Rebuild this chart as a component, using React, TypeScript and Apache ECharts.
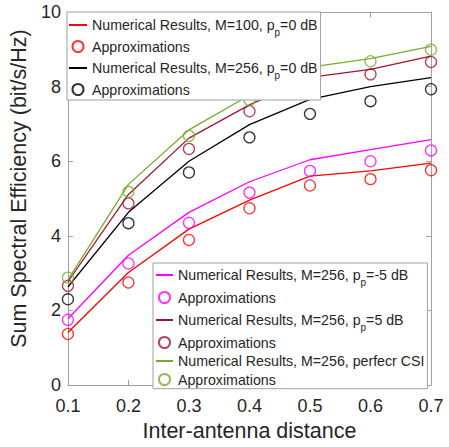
import React, { useEffect, useRef } from 'react';
import * as echarts from 'echarts';

// Inter-antenna distance (x)
const distances = [0.1, 0.2, 0.3, 0.4, 0.5, 0.6, 0.7];
// Sum spectral efficiency (bit/s/Hz)
const numM100p0 = [1.41, 3.02, 4.18, 4.96, 5.6, 5.74, 5.95];
const apxM100p0 = [1.37, 2.75, 3.89, 4.74, 5.35, 5.52, 5.76];
const numM256p0 = [2.63, 4.63, 6.0, 6.98, 7.66, 8.0, 8.24];
const apxM256p0 = [2.3, 4.34, 5.7, 6.64, 7.27, 7.61, 7.93];
const numM256pm5 = [1.78, 3.48, 4.63, 5.45, 6.04, 6.31, 6.58];
const apxM256pm5 = [1.75, 3.26, 4.35, 5.16, 5.74, 6.0, 6.29];
const numM256p5 = [2.77, 5.11, 6.62, 7.51, 8.25, 8.46, 8.82];
const apxM256p5 = [2.66, 4.87, 6.33, 7.34, 7.95, 8.33, 8.66];
const numCSI = [2.82, 5.38, 6.84, 7.77, 8.52, 8.75, 9.08];
const apxCSI = [2.88, 5.18, 6.68, 7.64, 8.32, 8.68, 8.99];

const legendLabels: Record<string, string> = {
  n1: 'Numerical Results, M=100, p{s|p}=0 dB',
  a1: 'Approximations',
  n2: 'Numerical Results, M=256, p{s|p}=0 dB',
  a2: 'Approximations',
  n3: 'Numerical Results, M=256, p{s|p}=-5 dB',
  a3: 'Approximations',
  n4: 'Numerical Results, M=256, p{s|p}=5 dB',
  a4: 'Approximations',
  n5: 'Numerical Results, M=256, perfecr CSI',
  a5: 'Approximations',
};

const FONT = "'Liberation Sans', Arial, Helvetica, sans-serif";
const AXIS_COLOR = '#a0a0a0';
const TEXT_COLOR = '#262626';

const RED = '#ff0000';
const BLACK = '#000000';
const MAGENTA = '#ff00ff';
const DARKRED = '#a2142f';
const GREEN = '#77ac30';

function pairs(vals: number[]) {
  return distances.map((d, i) => [d, vals[i]]);
}

function lineSeries(name: string, vals: number[], color: string) {
  return {
    name,
    type: 'line',
    data: pairs(vals),
    symbol: 'none',
    lineStyle: { color, width: 1.3 },
    itemStyle: { color },
    z: 2,
  };
}

function circleSeries(name: string, vals: number[], color: string) {
  return {
    name,
    type: 'scatter',
    data: pairs(vals),
    symbol: 'circle',
    symbolSize: 11,
    itemStyle: { color: 'transparent', borderColor: color, borderWidth: 1.3 },
    z: 3,
  };
}

const legendText = {
  fontSize: 14.2,
  fontFamily: FONT,
  color: TEXT_COLOR,
  lineHeight: 16,
  rich: {
    s: { fontSize: 10, lineHeight: 24, verticalAlign: 'bottom', fontFamily: FONT, color: TEXT_COLOR },
  },
};

const hiddenMarker = { color: 'transparent', borderColor: 'transparent', borderWidth: 0 };

function legendItem(name: string) {
  return name.startsWith('n') ? { name, itemStyle: hiddenMarker } : { name };
}

export default function App() {
  const ref = useRef<HTMLDivElement>(null);
  useEffect(() => {
    if (!ref.current) return;
    const chart = echarts.init(ref.current, undefined, { renderer: 'svg' });
    const axisCommon = {
      axisLine: { show: true, onZero: false, lineStyle: { color: AXIS_COLOR, width: 1 } },
      axisTick: { show: true, inside: true, length: 5, lineStyle: { color: AXIS_COLOR } },
      splitLine: { show: false },
    };
    chart.setOption({
      animation: false,
      backgroundColor: '#ffffff',
      grid: { left: 67, right: 18, top: 12, bottom: 59, containLabel: false },
      xAxis: [
        {
          type: 'value',
          min: 0.1,
          max: 0.7,
          interval: 0.1,
          position: 'bottom',
          ...axisCommon,
          axisLabel: {
            fontSize: 18,
            fontFamily: FONT,
            color: TEXT_COLOR,
            margin: 12,
            formatter: (v: number) => v.toFixed(1),
          },
          name: 'Inter-antenna distance',
          nameLocation: 'middle',
          nameGap: 34,
          nameTextStyle: { fontSize: 21.5, fontFamily: FONT, color: TEXT_COLOR },
        },
        {
          type: 'value',
          min: 0.1,
          max: 0.7,
          interval: 0.1,
          position: 'top',
          ...axisCommon,
          axisLabel: { show: false },
        },
      ],
      yAxis: [
        {
          type: 'value',
          min: 0,
          max: 10,
          interval: 2,
          position: 'left',
          ...axisCommon,
          axisLabel: {
            fontSize: 18,
            fontFamily: FONT,
            color: TEXT_COLOR,
            margin: 7,
            padding: [6, 0, 0, 0],
          },
          name: 'Sum Spectral Efficiency (bit/s/Hz)',
          nameLocation: 'middle',
          nameGap: 34,
          nameTextStyle: {
            fontSize: 21.5,
            fontFamily: FONT,
            color: TEXT_COLOR,
            padding: [0, 0, 0, 20],
          },
        },
        {
          type: 'value',
          min: 0,
          max: 10,
          interval: 2,
          position: 'right',
          ...axisCommon,
          axisLabel: { show: false },
        },
      ],
      legend: [
        {
          orient: 'vertical',
          left: 67,
          top: 12,
          padding: [1, 3, 2.5, 1],
          itemGap: 1.5,
          itemWidth: 18,
          itemHeight: 11,
          backgroundColor: '#ffffff',
          borderColor: AXIS_COLOR,
          borderWidth: 1,
          selectedMode: false,
          data: ['n1', 'a1', 'n2', 'a2'].map(legendItem),
          formatter: (name: string) => legendLabels[name],
          textStyle: legendText,
          z: 10,
        },
        {
          orient: 'vertical',
          left: 153,
          top: 263,
          padding: [0, 3, 1.2, 2],
          itemGap: 2.5,
          itemWidth: 17,
          itemHeight: 11,
          backgroundColor: '#ffffff',
          borderColor: AXIS_COLOR,
          borderWidth: 1,
          selectedMode: false,
          data: ['n3', 'a3', 'n4', 'a4', 'n5', 'a5'].map(legendItem),
          formatter: (name: string) => legendLabels[name],
          textStyle: legendText,
          z: 10,
        },
      ],
      series: [
        lineSeries('n1', numM100p0, RED),
        circleSeries('a1', apxM100p0, RED),
        lineSeries('n2', numM256p0, BLACK),
        circleSeries('a2', apxM256p0, BLACK),
        lineSeries('n3', numM256pm5, MAGENTA),
        circleSeries('a3', apxM256pm5, MAGENTA),
        lineSeries('n4', numM256p5, DARKRED),
        circleSeries('a4', apxM256p5, DARKRED),
        lineSeries('n5', numCSI, GREEN),
        circleSeries('a5', apxCSI, GREEN),
      ],
    });
    return () => chart.dispose();
  }, []);
  return (
    <div
      ref={ref}
      style={{ position: 'fixed', left: 0, top: 0, width: 449, height: 447 }}
    />
  );
}
